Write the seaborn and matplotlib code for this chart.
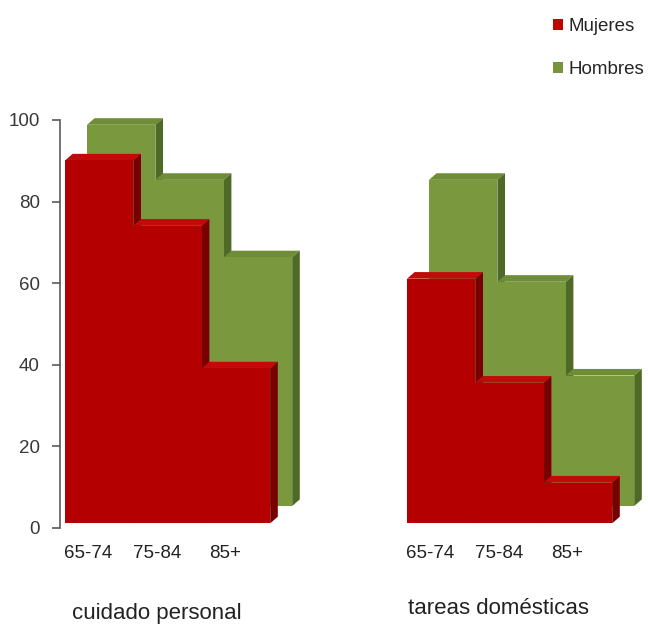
import matplotlib
matplotlib.use("Agg")
import matplotlib.pyplot as plt
from matplotlib.patches import Polygon, Patch
from matplotlib.transforms import ScaledTranslation
import numpy as np
import pandas as pd
import seaborn as sns

# ---- data -------------------------------------------------------------
actividades = ["cuidado personal", "tareas domésticas"]
edades = ["65-74", "75-84", "85+"]
mujeres = [89, 73, 38, 60, 34.5, 10]
hombres = [93.5, 80, 61, 80, 55, 32]
series = ["Mujeres", "Hombres"]

# ---- style ------------------------------------------------------------
sns.set_theme(style="white")
plt.rcParams["font.family"] = ["Liberation Sans", "DejaVu Sans"]

colores = {
    "Mujeres": {"front": "#B40000", "side": "#780000", "top": "#C20A0A", "legend": "#C00000"},
    "Hombres": {"front": "#7A983E", "side": "#4E6A26", "top": "#6F8D37", "legend": "#77933C"},
}

W, H, DPI = 648, 628, 100
fig = plt.figure(figsize=(W / DPI, H / DPI), dpi=DPI)

# axes box in pixels (left, bottom, width, height)
ax_left, ax_right = 60, 645
ax_bottom, ax_top = H - 527.7, H - 120
ax = fig.add_axes([ax_left / W, ax_bottom / H, (ax_right - ax_left) / W, (ax_top - ax_bottom) / H])

# bar positions: three ages per activity, a gap between activities
gap = 2
pos = [g * (len(edades) + gap) + i for g in range(len(actividades)) for i in range(len(edades))]

df = pd.DataFrame({
    "pos": pos * 2,
    "valor": mujeres + hombres,
    "sexo": ["Mujeres"] * len(mujeres) + ["Hombres"] * len(hombres),
})

xmin = -0.5 - 5 / 68.4
xmax = -0.5 + 580 / 68.4
ax.set_xlim(xmin, xmax)
ax.set_ylim(0, 100)

px_x = (ax_right - ax_left) / (xmax - xmin)   # pixels per x unit
px_y = (ax_top - ax_bottom) / 100.0            # pixels per y unit

# depth of the extruded faces, in data units
dx = 7.6 / px_x
dy = 6.6 / px_y

# the back series sits deeper (shifted right/up), the front one slightly above floor
offsets_px = {"Hombres": (22.0, 21.7), "Mujeres": (0.0, 4.4)}

for s_idx, sexo in enumerate(["Hombres", "Mujeres"]):
    sub = df[df["sexo"] == sexo]
    n0 = len(ax.patches)
    sns.barplot(data=sub, x="pos", y="valor", native_scale=True, width=1.0,
                color=colores[sexo]["front"], saturation=1, errorbar=None,
                linewidth=0, ax=ax)
    bars = ax.patches[n0:]
    ox, oy = offsets_px[sexo]
    trans = ax.transData + ScaledTranslation(ox / DPI, oy / DPI, fig.dpi_scale_trans)
    for k, bar in enumerate(bars):
        base_z = 10 + s_idx * 100 + k * 3
        x0 = bar.get_x()
        x1 = x0 + bar.get_width()
        h = bar.get_height()
        top = Polygon([(x0, h), (x1, h), (x1 + dx, h + dy), (x0 + dx, h + dy)],
                      closed=True, facecolor=colores[sexo]["top"], edgecolor="none",
                      transform=trans, zorder=base_z, clip_on=False)
        side = Polygon([(x1, 0), (x1, h), (x1 + dx, h + dy), (x1 + dx, dy)],
                       closed=True, facecolor=colores[sexo]["side"], edgecolor="none",
                       transform=trans, zorder=base_z + 1, clip_on=False)
        ax.add_patch(top)
        ax.add_patch(side)
        bar.set_transform(trans)
        bar.set_zorder(base_z + 2)
        bar.set_clip_on(False)

ax.set_xlim(xmin, xmax)
ax.set_ylim(0, 100)

# ---- axes styling -------------------------------------------------------
for sp in ["top", "right", "bottom"]:
    ax.spines[sp].set_visible(False)
ax.spines["left"].set_bounds(0, 100)
ax.spines["left"].set_color("#5a5a5a")
ax.spines["left"].set_linewidth(1.2)
ax.set_yticks([0, 20, 40, 60, 80, 100])
ax.tick_params(axis="y", direction="out", length=6, width=1.2, color="#5a5a5a",
               labelsize=13.5, labelcolor="#383838", pad=8.5, left=True)

label_shift = -0.16
ax.set_xticks([p + label_shift for p in pos])
ax.set_xticklabels(edades * len(actividades))
ax.tick_params(axis="x", length=0, labelsize=13.5, labelcolor="#222222", pad=12.5)
ax.set_xlabel("")
ax.set_ylabel("")

# activity names below the age labels
title_drop = [62.0, 58.5]
for g, nombre in enumerate(actividades):
    centro = np.mean(pos[g * len(edades):(g + 1) * len(edades)]) + label_shift
    ax.annotate(nombre, xy=(centro, 0), xycoords=("data", "axes fraction"),
                xytext=(0, -title_drop[g]), textcoords="offset points",
                ha="center", va="center", fontsize=16, color="#222222")

# legend
handles = [Patch(facecolor=colores[s]["legend"], edgecolor="none", label=s) for s in series]
fig.legend(handles=handles, loc="upper left", bbox_to_anchor=(553 / W, 1 - 18 / H),
           frameon=False, fontsize=13.5, handlelength=0.55, handleheight=0.55,
           handletextpad=0.3, labelspacing=1.38, borderpad=0, borderaxespad=0)

fig.savefig("out.png", dpi=DPI)
